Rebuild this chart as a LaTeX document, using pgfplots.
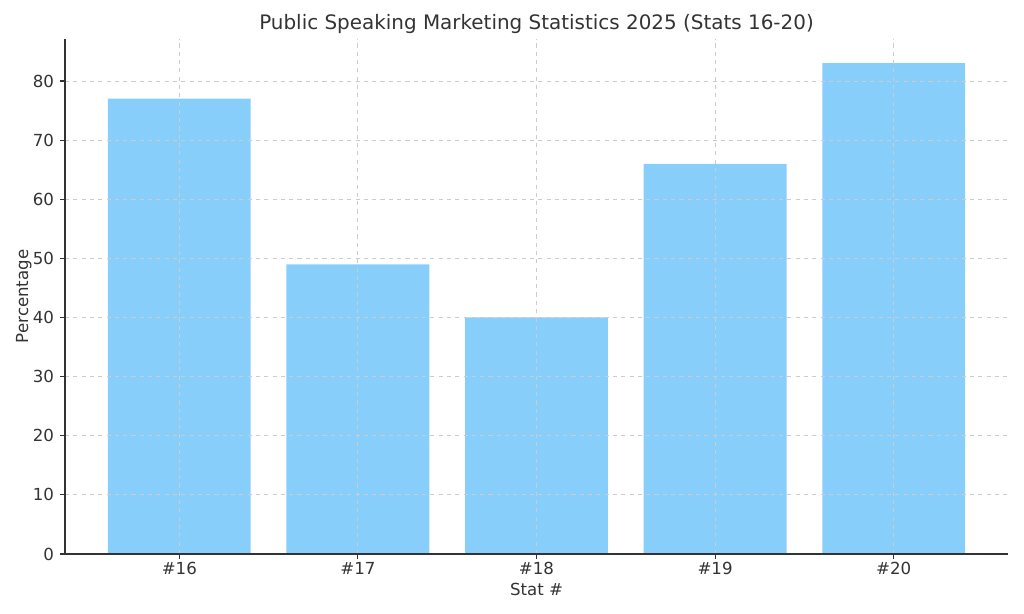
\documentclass[border=0pt]{standalone}
\usepackage{pgfplots}
\pgfplotsset{compat=1.18}
\usepackage{fontspec}
\setmainfont{DejaVu Sans}
\definecolor{barblue}{HTML}{87CEFA}
\definecolor{txt}{HTML}{333333}
\definecolor{gridc}{HTML}{CCCCCC}
\begin{document}
\begin{tikzpicture}
\begin{axis}[
    name=ax,
    at={(0,0)}, anchor=south west,
    scale only axis,
    width=681.5pt, height=372.4pt,
    xmin=-0.64, xmax=4.64,
    ymin=0, ymax=87.15,
    axis lines*=left,
    axis line style={txt, line width=0.9pt},
    xtick={0,1,2,3,4},
    xticklabels={\#16,\#17,\#18,\#19,\#20},
    ytick={0,10,20,30,40,50,60,70,80},
    tick align=outside,
    tick style={txt, line width=0.8pt},
    major tick length=3.5pt,
    tick label style={font=\fontsize{12}{14}\selectfont, text=txt},
    xticklabel style={text height=9pt, text depth=1pt, yshift=1pt},
    yticklabel style={xshift=-1pt},
    /pgf/number format/assume math mode=true,
    xlabel={Stat \#},
    ylabel={Percentage},
    label style={font=\fontsize{12}{14}\selectfont, text=txt},
    xlabel style={yshift=2pt},
    ylabel style={yshift=-6pt},
    title={Public Speaking Marketing Statistics 2025 (Stats 16-20)},
    title style={font=\fontsize{14.4}{16}\selectfont, text=txt, yshift=-6pt},
    grid=major,
    major grid style={gridc, dashed, line width=0.6pt},
    axis on top,
    ybar, bar width=0.8, bar shift=0pt,
]
\addplot[fill=barblue, draw=none] coordinates {(0,77) (1,49) (2,40) (3,66) (4,83)};
\end{axis}
\pgfresetboundingbox
\path[use as bounding box] (ax.south west) ++(-65*0.7227pt,-60*0.7227pt) rectangle ++(1024*0.7227pt,614*0.7227pt);
\end{tikzpicture}
\end{document}
